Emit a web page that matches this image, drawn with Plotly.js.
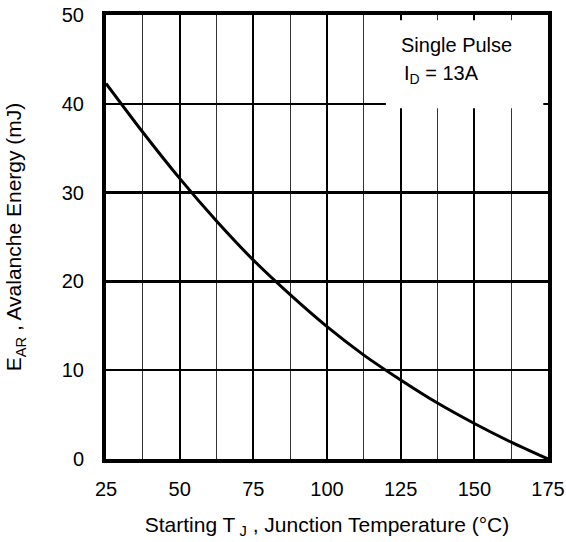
<!DOCTYPE html>
<html>
<head>
<meta charset="utf-8">
<script src="https://cdn.plot.ly/plotly-3.0.1.min.js"></script>
<style>
  html, body { margin: 0; padding: 0; background: #fff; }
  #chart { width: 566px; height: 542px; }
</style>
</head>
<body>
<div id="chart"></div>
<script>
// Starting junction temperature (°C)
var tempC = [25, 37.5, 50, 62.5, 75, 87.5, 100, 112.5, 125, 137.5, 150, 162.5, 175];
// Avalanche energy (mJ)
var energyMJ = [42.3, 36.8, 31.6, 26.8, 22.4, 18.5, 14.9, 11.7, 8.9, 6.3, 4.0, 1.9, 0];

var xTickVals = [25, 50, 75, 100, 125, 150, 175];
var xTickText = ['25', '50', '75', '100', '125', '150', '175'];
var yTickVals = [0, 10, 20, 30, 40, 50];
var yTickText = ['0', '10', '20', '30', '40', '50'];

var noteLine1 = 'Single Pulse';
var noteLine2 = 'I<sub>D</sub> = 13A';

var FONT = 'Liberation Sans, Arial, Helvetica, sans-serif';

var trace = {
  x: tempC,
  y: energyMJ,
  mode: 'lines',
  line: { color: '#000', width: 3, shape: 'spline', smoothing: 0.8 },
  hoverinfo: 'skip',
  showlegend: false
};

var layout = {
  width: 566,
  height: 542,
  margin: { l: 106, r: 18, t: 15, b: 83 },
  paper_bgcolor: '#fff',
  plot_bgcolor: '#fff',
  font: { family: FONT, size: 20, color: '#000' },
  showlegend: false,
  xaxis: {
    range: [25, 175],
    tickmode: 'array',
    tickvals: xTickVals,
    ticktext: xTickText,
    ticks: '',
    ticklabelstandoff: 9,
    tickfont: { size: 20 },
    showgrid: true,
    gridcolor: '#000',
    gridwidth: 2,
    minor: { dtick: 12.5, tick0: 25, showgrid: true, gridcolor: '#333', gridwidth: 1, ticks: '' },
    zeroline: false,
    showline: true,
    linecolor: '#000',
    linewidth: 4,
    mirror: true,
    title: { text: 'Starting T<sub> J</sub> , Junction Temperature (°C)', font: { size: 21 }, standoff: 19 },
    automargin: false,
    fixedrange: true
  },
  yaxis: {
    range: [0, 50],
    tickmode: 'array',
    tickvals: yTickVals,
    ticktext: yTickText,
    ticks: '',
    ticklabelstandoff: 14,
    tickfont: { size: 20 },
    showgrid: true,
    gridcolor: '#000',
    gridwidth: 2.5,
    zeroline: false,
    showline: true,
    linecolor: '#000',
    linewidth: 4,
    mirror: true,
    title: { text: 'E<sub>AR</sub> , Avalanche Energy (mJ)', font: { size: 21 }, standoff: 35 },
    automargin: false,
    fixedrange: true
  },
  shapes: [
    {
      type: 'rect', xref: 'x', yref: 'y',
      x0: 120, x1: 173.4, y0: 39.5, y1: 49.4,
      fillcolor: '#fff', line: { width: 0 }, layer: 'above'
    }
  ],
  annotations: [
    {
      xref: 'x', yref: 'y', x: 144, y: 46.6,
      text: noteLine1, showarrow: false,
      xanchor: 'center', yanchor: 'middle',
      font: { family: FONT, size: 20, color: '#000' }
    },
    {
      xref: 'x', yref: 'y', x: 125.5, y: 43.3,
      text: noteLine2, showarrow: false,
      xanchor: 'left', yanchor: 'middle',
      font: { family: FONT, size: 20, color: '#000' }
    }
  ]
};

Plotly.newPlot('chart', [trace], layout, { displayModeBar: false, staticPlot: true });
</script>
</body>
</html>
